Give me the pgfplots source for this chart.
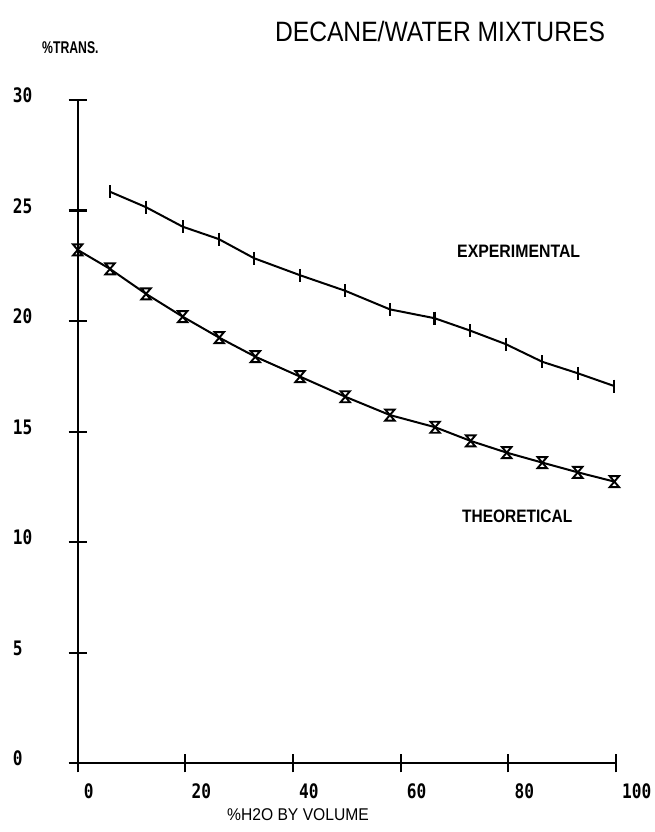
\documentclass[border=0pt]{standalone}
\usepackage{pgfplots}
\pgfplotsset{compat=1.18}
\usepackage{fontspec}
\setmainfont{Liberation Sans}
\newfontfamily\tickfont{DejaVu Sans Mono}

% plotter style hourglass marker for the theoretical curve
\pgfdeclareplotmark{hourglass}{%
  \pgfpathmoveto{\pgfqpoint{-0.85\pgfplotmarksize}{\pgfplotmarksize}}%
  \pgfpathlineto{\pgfqpoint{0.85\pgfplotmarksize}{\pgfplotmarksize}}%
  \pgfpathlineto{\pgfqpoint{-0.85\pgfplotmarksize}{-\pgfplotmarksize}}%
  \pgfpathlineto{\pgfqpoint{0.85\pgfplotmarksize}{-\pgfplotmarksize}}%
  \pgfpathclose
  \pgfusepathqstroke}

\newcommand{\tk}[1]{\scalebox{0.85}[1.05]{\tickfont\bfseries\fontsize{19}{19}\selectfont #1}}

\begin{document}
\begin{tikzpicture}
\useasboundingbox (0,0) rectangle (655pt,832pt);
\begin{axis}[
  at={(77.7pt,68.7pt)}, anchor=south west,
  scale only axis, width=538.3pt, height=663.3pt,
  xmin=0, xmax=100, ymin=0, ymax=30,
  axis x line=bottom, axis y line=left,
  axis line style={-, line width=2.2pt},
  xtick={0,20,...,100}, ytick={0,5,...,30},
  xticklabels={\tk{0},\tk{20},\tk{40},\tk{60},\tk{80},\tk{100}},
  yticklabels={\tk{0},\tk{5},\tk{10},\tk{15},\tk{20},\tk{25},\tk{30}},
  major tick length=18pt, tick align=center,
  tick style={line width=2.2pt, black},
  xticklabel style={anchor=north west, inner sep=0pt, xshift=6pt, yshift=-11pt},
  yticklabel style={anchor=south west, inner sep=0pt, xshift=-56pt, yshift=-3pt},
  clip=false,
]
% experimental
\addplot[black, line width=2pt, mark=|, mark size=6.5pt,
  mark options={line width=2.2pt}] coordinates {
  (6.0,25.85) (12.7,25.15) (19.5,24.27) (26.2,23.71) (32.8,22.84)
  (41.35,22.07) (49.7,21.37) (58.0,20.53) (66.3,20.13) (72.9,19.57)
  (79.5,18.96) (86.3,18.16) (92.9,17.64) (99.7,17.06)
};
% theoretical
\addplot[black, line width=2pt, mark=hourglass, mark size=5.5pt,
  mark options={line width=1.9pt}] coordinates {
  (0,23.22) (6.0,22.36) (12.7,21.23) (19.5,20.20) (26.3,19.25)
  (33.0,18.39) (41.3,17.49) (49.7,16.58) (58.0,15.75) (66.4,15.20)
  (73.0,14.58) (79.7,14.05) (86.3,13.60) (92.9,13.16) (99.7,12.74)
};
\end{axis}
\node at (440pt,800pt) {\scalebox{0.88}[1]{\fontsize{28}{28}\selectfont DECANE/WATER MIXTURES}};
\node[anchor=west, inner sep=0pt] at (42pt,784pt) {\scalebox{0.72}[1]{\fontsize{17}{17}\selectfont\bfseries \%TRANS.}};
\node[inner sep=0pt] at (298pt,17pt) {\scalebox{0.92}[1]{\fontsize{17}{17}\selectfont \%H2O BY VOLUME}};
\node[anchor=west, inner sep=0pt] at (457pt,580.3pt) {\scalebox{0.88}[1]{\fontsize{18}{18}\selectfont\bfseries EXPERIMENTAL}};
\node[anchor=west, inner sep=0pt] at (462pt,315.5pt) {\scalebox{0.86}[1]{\fontsize{18}{18}\selectfont\bfseries THEORETICAL}};
\end{tikzpicture}
\end{document}
